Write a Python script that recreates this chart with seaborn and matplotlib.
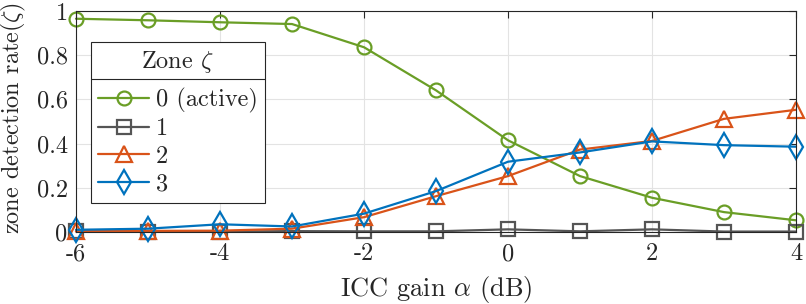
import numpy as np
import pandas as pd
import matplotlib
matplotlib.use("Agg")
import matplotlib.pyplot as plt
import seaborn as sns
from matplotlib.lines import Line2D

sns.set_style("white")
plt.rcParams['font.family'] = ['cmr10', 'DejaVu Serif']
plt.rcParams['mathtext.fontset'] = 'cm'
plt.rcParams['axes.formatter.use_mathtext'] = True

# ---- data ----
gain_db = [-6, -5, -4, -3, -2, -1, 0, 1, 2, 3, 4]
zone0 = [0.965, 0.958, 0.949, 0.941, 0.836, 0.641, 0.415, 0.253, 0.155, 0.090, 0.053]
zone1 = [0.003, 0.002, 0.002, 0.004, 0.003, 0.003, 0.012, 0.003, 0.012, 0.002, 0.002]
zone2 = [0.003, 0.005, 0.006, 0.015, 0.067, 0.162, 0.253, 0.373, 0.412, 0.512, 0.553]
zone3 = [0.010, 0.015, 0.035, 0.025, 0.083, 0.185, 0.318, 0.360, 0.410, 0.393, 0.386]
labels = ["0 (active)", "1", "2", "3"]
x_ticks = [-6, -4, -2, 0, 2, 4]
x_ticklabels = ["-6", "-4", "-2", "0", "2", "4"]
y_ticks = [0, 0.2, 0.4, 0.6, 0.8, 1]
y_ticklabels = ["0", "0.2", "0.4", "0.6", "0.8", "1"]

colors = ["#6A9E26", "#555555", "#D95319", "#0072BD"]
markers = ["o", "s", "^", "d"]
msizes = [10, 9.5, 12, 12]

fig = plt.figure(figsize=(8.06, 3.04), dpi=100)
ax = fig.add_axes([76/806, 1 - 232/304, 720/806, 221/304])

series = [zone0, zone1, zone2, zone3]
for vals, lab, c, m, ms in zip(series, labels, colors, markers, msizes):
    df = pd.DataFrame({"x": gain_db, "y": vals})
    sns.lineplot(data=df, x="x", y="y", ax=ax, color=c, marker=m, markersize=ms,
                 markerfacecolor="none", markeredgecolor=c, markeredgewidth=1.6,
                 linewidth=1.6, label=lab, clip_on=False)

ax.set_xlim(-6, 4)
ax.set_ylim(0, 1)
ax.set_xticks(x_ticks)
ax.set_xticklabels(x_ticklabels)
ax.set_yticks(y_ticks)
ax.set_yticklabels(y_ticklabels)
ax.grid(True, color="#e3e3e3", linewidth=0.8)
ax.set_axisbelow(True)
for s in ax.spines.values():
    s.set_color("#262626")
    s.set_linewidth(0.8)
ax.tick_params(direction="in", length=5, width=0.8, color="#262626",
               top=True, right=True, labelsize=17.5, labelcolor="#262626", pad=6)
ax.tick_params(axis="x", pad=8)
ax.set_xlabel(r"ICC gain $\alpha$ (dB)", fontsize=19, color="#262626", labelpad=6)
ax.set_ylabel(r"zone detection rate($\zeta$)", fontsize=17.5, color="#262626")
ax.yaxis.set_label_coords(-0.066, 0.515)

leg = ax.legend(title=r"Zone $\zeta$", loc="upper left", bbox_to_anchor=(0.021, 0.86),
                fontsize=17.5, title_fontsize=17.5, frameon=True, fancybox=False,
                framealpha=1, edgecolor="#262626", handlelength=2.1,
                borderpad=0.3, labelspacing=0.22, handletextpad=0.25,
                borderaxespad=0)
leg.get_frame().set_linewidth(0.8)
leg._legend_box.sep = 9

fig.canvas.draw()
bb = leg.get_window_extent()
tb = leg.get_title().get_window_extent()
ysep = tb.y0 - 4
fig.add_artist(Line2D([bb.x0 / 806, bb.x1 / 806], [ysep / 304, ysep / 304],
                      color="#262626", linewidth=0.8, transform=fig.transFigure))

fig.savefig("out.png", dpi=100)
